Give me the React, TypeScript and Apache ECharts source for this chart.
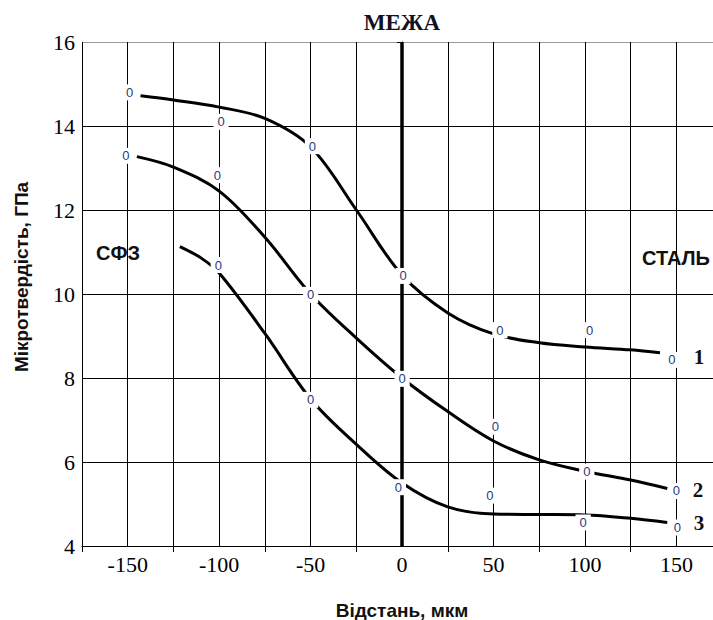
import React, { useEffect, useRef } from 'react';
import * as echarts from 'echarts';

// Axis ticks
const xTickLabels = [-150, -100, -50, 0, 50, 100, 150];
const xTickMarks = [-175, -125, -75, -25, 25, 75, 125];

// Fitted smooth curves [distance, microhardness]
const fit1 = [[-143, 14.72], [-125, 14.62], [-100, 14.45], [-75, 14.18], [-50, 13.5], [-25, 12.0], [0, 10.45], [25, 9.55], [50, 9.05], [75, 8.84], [100, 8.74], [125, 8.67], [141, 8.6]];
const fit2 = [[-145, 13.27], [-125, 13.02], [-100, 12.45], [-75, 11.35], [-50, 10.0], [-25, 8.95], [0, 8.0], [25, 7.2], [50, 6.5], [75, 6.05], [100, 5.78], [125, 5.57], [145, 5.37]];
const fit3 = [[-121.5, 11.13], [-110, 10.86], [-100, 10.5], [-75, 9.06], [-50, 7.5], [-25, 6.42], [0, 5.5], [25, 4.93], [50, 4.76], [75, 4.75], [100, 4.74], [125, 4.66], [145, 4.56]];

// Measured points (drawn as "0" markers)
const meas1 = [[-149, 14.8], [-99, 14.1], [-49, 13.52], [0.5, 10.43], [53.5, 9.14], [102.5, 9.14], [147.5, 8.43]];
const meas2 = [[-151, 13.29], [-101, 12.83], [-50, 9.98], [0, 7.98], [51, 6.84], [101, 5.77], [150, 5.31]];
const meas3 = [[-100.5, 10.69], [-50, 7.48], [-2, 5.4], [48, 5.2], [99, 4.56], [150.5, 4.44]];

const curveNames = ['1', '2', '3'];

export default function App() {
  const ref = useRef<HTMLDivElement>(null);
  useEffect(() => {
    const chart = echarts.init(ref.current!, null, { renderer: 'svg' });
    const lineSeries = (data: number[][], withMark: boolean) => ({
      type: 'line',
      data,
      smooth: 0.35,
      showSymbol: false,
      symbol: 'none',
      silent: true,
      z: 2,
      lineStyle: { color: '#000', width: 3 },
      markLine: withMark
        ? {
            symbol: ['none', 'none'],
            silent: true,
            label: { show: false },
            lineStyle: { color: '#000', width: 3.5, type: 'solid' },
            data: [{ xAxis: 0 }],
          }
        : undefined,
    });
    const scatterSeries = (data: number[][]) => ({
      type: 'scatter',
      data,
      symbolSize: 1,
      itemStyle: { color: '#ffffff', opacity: 1 },
      silent: true,
      z: 5,
      label: {
        show: true,
        formatter: '0',
        position: 'inside',
        fontSize: 13,
        lineHeight: 12,
        fontFamily: 'Liberation Sans',
        color: '#2c3a7a',
        opacity: 1,
        textBorderWidth: 0,
        backgroundColor: '#ffffff',
        padding: [2, 4],
      },
    });
    const common = { type: 'value', min: -175, max: 170, position: 'bottom' };
    chart.setOption({
      animation: false,
      backgroundColor: '#fff',
      grid: { left: 82, right: 0, top: 42, bottom: 74 },
      xAxis: [
        {
          ...common,
          interval: 25,
          axisLine: { show: true, lineStyle: { color: '#000', width: 1 } },
          axisTick: { show: false },
          axisLabel: {
            customValues: xTickLabels,
            fontFamily: 'Liberation Serif',
            fontSize: 22,
            color: '#000',
            margin: 7,
          },
          splitLine: { show: true, showMaxLine: false, lineStyle: { color: '#000', width: 1 } },
        },
        {
          ...common,
          interval: 50,
          axisLine: { show: false },
          axisTick: { show: true, length: 6, lineStyle: { color: '#000' }, customValues: xTickMarks },
          axisLabel: { show: false },
          splitLine: { show: false },
        },
      ],
      yAxis: {
        type: 'value',
        min: 4,
        max: 16,
        interval: 2,
        axisLine: { show: true, lineStyle: { color: '#000', width: 1 } },
        axisTick: { show: true, length: 5, lineStyle: { color: '#000' } },
        axisLabel: { fontFamily: 'Liberation Serif', fontSize: 22, color: '#000', margin: 7 },
        splitLine: {
          show: true,
          lineStyle: { color: ['#000', '#000', '#000', '#000', '#000', '#000', '#9a9a9a'], width: 1 },
        },
      },
      series: [
        lineSeries(fit1, true),
        lineSeries(fit2, false),
        lineSeries(fit3, false),
        scatterSeries(meas1),
        scatterSeries(meas2),
        scatterSeries(meas3),
      ],
      graphic: [
        {
          type: 'text', x: 402, y: 22, z: 10,
          style: { text: 'МЕЖА', font: 'bold 23px "Liberation Serif"', fill: '#111122', textAlign: 'center', textVerticalAlign: 'middle' },
        },
        {
          type: 'text', x: 118, y: 253, z: 10,
          style: { text: 'СФЗ', font: 'bold 20px "Liberation Sans"', fill: '#111', textAlign: 'center', textVerticalAlign: 'middle' },
        },
        {
          type: 'text', x: 676, y: 258, z: 10,
          style: { text: 'СТАЛЬ', font: 'bold 20px "Liberation Sans"', fill: '#111', textAlign: 'center', textVerticalAlign: 'middle' },
        },
        {
          type: 'text', x: 699, y: 357, z: 10,
          style: { text: curveNames[0], font: 'bold 21px "Liberation Serif"', fill: '#111', textAlign: 'center', textVerticalAlign: 'middle' },
        },
        {
          type: 'text', x: 698, y: 490, z: 10,
          style: { text: curveNames[1], font: 'bold 21px "Liberation Serif"', fill: '#111', textAlign: 'center', textVerticalAlign: 'middle' },
        },
        {
          type: 'text', x: 699, y: 523, z: 10,
          style: { text: curveNames[2], font: 'bold 21px "Liberation Serif"', fill: '#111', textAlign: 'center', textVerticalAlign: 'middle' },
        },
        {
          type: 'text', x: 402, y: 610, z: 10,
          style: { text: 'Відстань, мкм', font: 'bold 19px "Liberation Sans"', fill: '#111', textAlign: 'center', textVerticalAlign: 'middle' },
        },
        {
          type: 'text', x: 21, y: 277, rotation: Math.PI / 2, z: 10,
          style: { text: 'Мікротвердість, ГПа', font: 'bold 19px "Liberation Sans"', fill: '#111', textAlign: 'center', textVerticalAlign: 'middle' },
        },
      ],
    });
    return () => chart.dispose();
  }, []);
  return (
    <div
      ref={ref}
      style={{ position: 'absolute', left: 0, top: 0, width: 713, height: 620, background: '#fff' }}
    />
  );
}
